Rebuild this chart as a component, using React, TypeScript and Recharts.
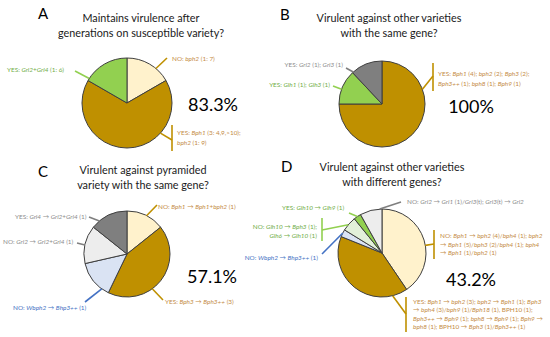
import React from 'react';
import { PieChart, Pie, Cell } from 'recharts';

const W = 550;
const H = 337;
const FONT = 'Lato, "Open Sans", "DejaVu Sans", sans-serif';

// ---------- data ----------
const panelLetters = ['A', 'B', 'C', 'D'];
const titleA = ['Maintains virulence after', 'generations on susceptible variety?'];
const titleB = ['Virulent against other varieties', 'with the same gene?'];
const titleC = ['Virulent against pyramided', 'variety with the same gene?'];
const titleD = ['Virulent against other varieties', 'with different genes?'];
const percentLabels = ['83.3%', '100%', '57.1%', '43.2%'];

const valuesA = [1, 4, 1];
const labelsA = [
  ['NO: bph2 (1: 7)'],
  ['YES: Bph1 (3: 4,9,>10);', 'bph2 (1: 9)'],
  ['YES: Grl2+Grl4 (1: 6)'],
];

const valuesB = [75, 13, 12];
const labelsB = [
  ['YES: Bph1 (4); bph2 (2); Bph3 (2);', 'Bph3++ (1); bph8 (1); Bph9 (1)'],
  ['YES: Glh1 (1); Glh3 (1)'],
  ['YES: Grl2 (1); Grl3 (1)'],
];

const valuesC = [1, 3, 1, 1, 1];
const labelsC = [
  ['NO: Bph1 → Bph1+bph2 (1)'],
  ['YES: Bph3 → Bph3++ (3)'],
  ['NO: Wbph2 → Bhp3++ (1)'],
  ['NO: Grl2 → Grl2+Grl4 (1)'],
  ['YES: Grl4 → Grl2+Grl4 (1)'],
];

const valuesD = [15, 15, 1, 2, 1, 3];
const labelsD = [
  ['NO: Bph1 → bph2 (4)/bph4 (1); bph2', '→ Bph1 (5)/bph3 (2)/bph4 (1); bph4', '→ Bph1 (1)/bph2 (1)'],
  ['YES: Bph1 → bph2 (3); bph2 → Bph1 (1); Bph3', '→ bph4 (3)/bph9 (1)/Bph18 (1), BPH10 (1);', 'Bph3++ → Bph9 (1); bph8 → Bph9 (1); Bph9 →', 'bph8 (1); BPH10 → Bph3 (1)/Bph3++ (1)'],
  ['NO: Wbph2 → Bhp3++ (1)'],
  ['NO: Glh10 → Bph3 (1);', 'Glh6 → Glh10 (1)'],
  ['YES: Glh10 → Glh9 (1)'],
  ['NO: Grl2 → Grl1 (1)/Grl3(t); Grl3(t) → Grl2'],
];

// ---------- styles ----------
const C_CREAM = '#FFF2CC';
const C_GOLD = '#BF9000';
const C_GREEN = '#92D050';
const C_DGRAY = '#7F7F7F';
const C_LGRAY = '#EDEDED';
const C_LBLUE = '#DAE3F3';
const C_LGREEN = '#E2F0D9';

const T_GOLD = '#C48B45';
const T_GREEN = '#70AD47';
const T_GRAY = '#8C8C8C';
const T_BLUE = '#4472C4';

const L_GOLD = '#BF9000';
const L_GREEN = '#92D050';
const L_GRAY = '#7F7F7F';
const L_BLUE = '#4472C4';

type Ann = {
  edge: number;
  end: [number, number];
  bracket?: [number, number, number];
  x: number;
  y: number;
  lh?: number;
  anchor?: 'start' | 'end';
  color: string;
  line: string;
};

const panels = [
  {
    values: valuesA, labels: labelsA, cx: 127, cy: 103, r: 45,
    fills: [C_CREAM, C_GOLD, C_GREEN],
    anns: [
      { edge: 40, end: [167, 58], x: 172, y: 61, color: T_GOLD, line: L_GOLD },
      { edge: 132, end: [172, 140], bracket: [172, 125, 151], x: 177, y: 135, lh: 9.5, color: T_GOLD, line: L_GOLD },
      { edge: 303, end: [75, 71], x: 7, y: 72, color: T_GREEN, line: L_GREEN },
    ] as Ann[],
  },
  {
    values: valuesB, labels: labelsB, cx: 382, cy: 104, r: 43,
    fills: [C_GOLD, C_GREEN, C_DGRAY],
    anns: [
      { edge: 70, end: [433, 76], bracket: [433, 63, 91], x: 438, y: 75.5, lh: 10, color: T_GOLD, line: L_GOLD },
      { edge: 290, end: [333, 86], x: 330, y: 87, anchor: 'end', color: T_GREEN, line: L_GREEN },
      { edge: 318, end: [346, 68], x: 343, y: 66.5, anchor: 'end', color: T_GRAY, line: L_GRAY },
    ] as Ann[],
  },
  {
    values: valuesC, labels: labelsC, cx: 127, cy: 254, r: 43,
    fills: [C_CREAM, C_GOLD, C_LBLUE, C_LGRAY, C_DGRAY],
    anns: [
      { edge: 27, end: [157, 205], x: 158, y: 209, color: T_GOLD, line: L_GOLD },
      { edge: 144, end: [163, 300], x: 165, y: 304, color: T_GOLD, line: L_GOLD },
      { edge: 216, end: [85, 302], x: 13, y: 310, color: T_BLUE, line: L_BLUE },
      { edge: 282, end: [77, 243], x: 3, y: 244, color: T_GRAY, line: L_GRAY },
      { edge: 320, end: [89, 217], x: 15, y: 219, color: T_GRAY, line: L_GRAY },
    ] as Ann[],
  },
  {
    values: valuesD, labels: labelsD, cx: 382, cy: 253, r: 44,
    fills: [C_CREAM, C_GOLD, C_LBLUE, C_LGREEN, C_GREEN, C_LGRAY],
    anns: [
      { edge: 80, end: [434, 244], bracket: [434, 230, 259], x: 440, y: 238, lh: 8.6, color: T_GOLD, line: L_GOLD },
      { edge: 166, end: [406, 314], bracket: [406, 297, 332], x: 413, y: 304, lh: 8.3, color: T_GOLD, line: L_GOLD },
      { edge: 297, end: [322, 254], x: 318, y: 260, anchor: 'end', color: T_BLUE, line: L_BLUE },
      { edge: 310, end: [322, 230], bracket: [322, 218, 241], x: 317, y: 229, lh: 9, anchor: 'end', color: T_GREEN, line: L_GREEN },
      { edge: 326, end: [349, 213], x: 282, y: 210, color: T_GREEN, line: L_GREEN },
      { edge: 357, end: [401, 202], x: 407, y: 204, color: T_GRAY, line: L_GRAY },
    ] as Ann[],
  },
];

const titles = [titleA, titleB, titleC, titleD];
const titlePos = [
  { x: 141, y: 22 }, { x: 389, y: 22 }, { x: 143, y: 174 }, { x: 392, y: 171 },
];
const letterPos = [
  { x: 38, y: 19 }, { x: 280, y: 20 }, { x: 38, y: 177 }, { x: 281, y: 172 },
];
const pctPos = [
  { x: 213, y: 111 }, { x: 471, y: 113 }, { x: 212, y: 283 }, { x: 471, y: 286 },
];

const GENE = /((?:[Bb]ph|Bhp|Grl|Glh|Wbph)\d+(?:\+\+)?)/;
function rich(s: string) {
  return s.split(GENE).map((p, i) =>
    p ? (
      <tspan key={i} fontStyle={i % 2 === 1 ? 'italic' : 'normal'}>
        {p}
      </tspan>
    ) : null
  );
}

const makeLabel = (anns: Ann[], labels: string[][]) => (props: any) => {
  const { cx, cy, outerRadius, index } = props;
  const a = anns[index];
  if (!a) return null;
  const th = (a.edge * Math.PI) / 180;
  const sx = cx + outerRadius * Math.sin(th);
  const sy = cy - outerRadius * Math.cos(th);
  const lines = labels[index];
  return (
    <g key={`ann-${index}`}>
      <line x1={sx} y1={sy} x2={a.end[0]} y2={a.end[1]} stroke={a.line} strokeWidth={1.6} />
      {a.bracket && (
        <line x1={a.bracket[0]} y1={a.bracket[1]} x2={a.bracket[0]} y2={a.bracket[2]} stroke={a.line} strokeWidth={1.6} />
      )}
      <text
        x={a.x}
        y={a.y}
        fontSize={6.4}
        fontFamily={FONT}
        fill={a.color}
        textAnchor={a.anchor || 'start'}
      >
        {lines.map((ln, i) => (
          <tspan key={i} x={a.x} dy={i === 0 ? 0 : a.lh || 9}>
            {rich(ln)}
          </tspan>
        ))}
      </text>
    </g>
  );
};

export default function App() {
  return (
    <div style={{ position: 'absolute', left: 0, top: 0, width: W, height: H, background: '#fff' }}>
      <PieChart width={W} height={H} margin={{ top: 0, right: 0, bottom: 0, left: 0 }}>
        {panels.map((p, pi) => (
          <Pie
            key={pi}
            data={p.values.map((v, i) => ({ name: `s${i}`, value: v }))}
            dataKey="value"
            cx={p.cx}
            cy={p.cy}
            outerRadius={p.r}
            innerRadius={0}
            startAngle={90}
            endAngle={-270}
            stroke="#3F3F3F"
            strokeWidth={1}
            isAnimationActive={false}
            labelLine={false}
            label={makeLabel(p.anns, p.labels)}
          >
            {p.values.map((_, i) => (
              <Cell key={i} fill={p.fills[i]} />
            ))}
          </Pie>
        ))}
      </PieChart>
      <svg
        width={W}
        height={H}
        style={{ position: 'absolute', left: 0, top: 0, pointerEvents: 'none' }}
      >
        {panelLetters.map((l, i) => (
          <text key={l} x={letterPos[i].x} y={letterPos[i].y} fontSize={15} fontFamily={FONT} fill="#000">
            {l}
          </text>
        ))}
        {titles.map((t, i) => (
          <text key={i} x={titlePos[i].x} y={titlePos[i].y} fontSize={10.8} fontFamily={FONT} fill="#1a1a1a" textAnchor="middle">
            {t.map((ln, j) => (
              <tspan key={j} x={titlePos[i].x} dy={j === 0 ? 0 : 14.5}>
                {ln}
              </tspan>
            ))}
          </text>
        ))}
        {percentLabels.map((s, i) => (
          <text key={s} x={pctPos[i].x} y={pctPos[i].y} fontSize={18} fontFamily={FONT} fill="#000" textAnchor="middle">
            {s}
          </text>
        ))}
      </svg>
    </div>
  );
}
